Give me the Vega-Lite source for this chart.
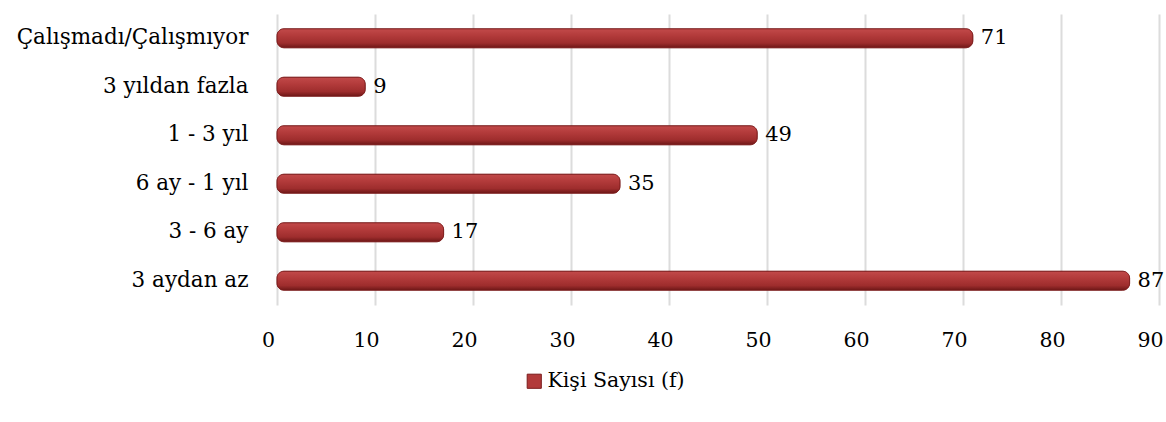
{
  "$schema": "https://vega.github.io/schema/vega-lite/v6.json",
  "width": 882,
  "height": 291,
  "autosize": {"type": "none"},
  "padding": {"left": 277, "top": 14, "right": 7, "bottom": 117},
  "background": "white",
  "config": {
    "view": {"stroke": null},
    "font": "DejaVu Serif"
  },
  "data": {
    "values": [
      {"cat": "Çalışmadı/Çalışmıyor", "n": 71, "series": "Kişi Sayısı (f)"},
      {"cat": "3 yıldan fazla", "n": 9, "series": "Kişi Sayısı (f)"},
      {"cat": "1 - 3 yıl", "n": 49, "series": "Kişi Sayısı (f)"},
      {"cat": "6 ay - 1 yıl", "n": 35, "series": "Kişi Sayısı (f)"},
      {"cat": "3 - 6 ay", "n": 17, "series": "Kişi Sayısı (f)"},
      {"cat": "3 aydan az", "n": 87, "series": "Kişi Sayısı (f)"}
    ]
  },
  "encoding": {
    "y": {
      "field": "cat", "type": "nominal", "sort": null,
      "axis": {"title": null, "domain": false, "ticks": false, "labelPadding": 29, "labelFontSize": 21.5, "labelColor": "#000000", "labelFont": "DejaVu Serif", "labelLimit": 0}
    },
    "x": {
      "field": "n", "type": "quantitative",
      "scale": {"domain": [0, 90], "nice": false},
      "axis": {"title": null, "values": [0,10,20,30,40,50,60,70,80,90], "domain": false, "ticks": false, "grid": true, "gridColor": "#dcdcdc", "gridWidth": 2, "labelPadding": 25, "labelFontSize": 20.5, "labelColor": "#000000", "labelOffset": -9, "labelFont": "DejaVu Serif", "labelFlush": false}
    }
  },
  "layer": [
    {
      "mark": {"type": "bar", "size": 19, "cornerRadius": 7, "stroke": "#7a1c1c", "strokeWidth": 0.8},
      "encoding": {
        "color": {
          "field": "series", "type": "nominal",
          "scale": {"range": ["#b23a3a"]},
          "legend": {"title": null, "orient": "none", "legendX": 247, "legendY": 357, "symbolType": "square", "symbolSize": 200, "labelFontSize": 20.5, "labelColor": "#000000", "labelFont": "DejaVu Serif", "labelOffset": 3, "symbolStrokeColor": "#7a1c1c", "symbolStrokeWidth": 1}
        }
      }
    },
    {
      "mark": {
        "type": "bar", "size": 19, "cornerRadius": 7,
        "color": {
          "gradient": "linear", "x1": 0, "y1": 0, "x2": 0, "y2": 1,
          "stops": [
            {"offset": 0, "color": "#c24a4a"},
            {"offset": 0.35, "color": "#b33b3b"},
            {"offset": 0.75, "color": "#9e2d2d"},
            {"offset": 1, "color": "#6e1717"}
          ]
        },
        "stroke": "#7a1c1c", "strokeWidth": 0.6
      }
    },
    {
      "mark": {"type": "text", "align": "left", "dx": 8, "fontSize": 21, "font": "DejaVu Serif", "color": "#000000"},
      "encoding": {"text": {"field": "n", "type": "quantitative"}}
    }
  ]
}
